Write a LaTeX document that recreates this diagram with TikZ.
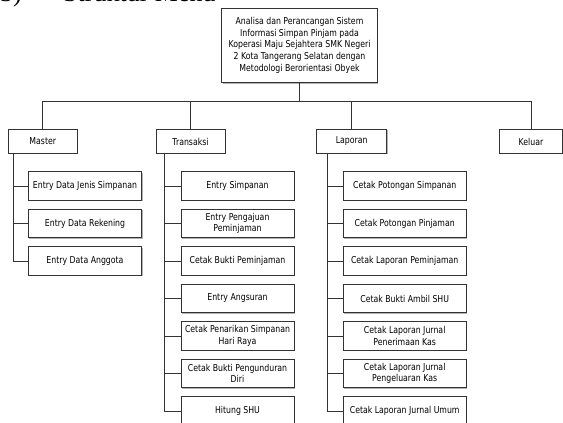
\documentclass[tikz,border=0pt]{standalone}
\usepackage{fontspec}
\newfontfamily\boxfont{DejaVu Sans}[FakeStretch=0.82]
\newfontfamily\headfont{Liberation Serif}
\usetikzlibrary{shadows}

\begin{document}
\begin{tikzpicture}[x=1pt,y=-1pt,
  box/.style={draw=black!80, line width=0.8pt, fill=white, rectangle,
    inner sep=0pt, align=center, text=black,
    font=\boxfont\fontsize{9.5}{11.6}\selectfont,
    drop shadow={shadow xshift=0.9pt, shadow yshift=-0.9pt, fill=black!30, opacity=1}},
  topbox/.style={box, minimum height=24},
  subbox/.style={box, minimum height=28.5},
  link/.style={draw=black!80, line width=0.8pt},
  heading/.style={anchor=base west, inner sep=0pt, font=\headfont\fontsize{26}{26}\selectfont}
]
\clip (0,0) rectangle (563,423);
\fill[white] (0,0) rectangle (563,423);

% section heading above the chart
\node[heading] (hnum) at (0,1.5) {3)};
\node[heading] (htitle) at (63,1.5) {Struktur Menu};

% root of the menu structure
\node[box, minimum width=155.5, minimum height=74.7] (root) at (299.5,45.3)
  {Analisa dan Perancangan Sistem\\Informasi Simpan Pinjam pada\\Koperasi Maju Sejahtera SMK Negeri\\2 Kota Tangerang Selatan dengan\\Metodologi Berorientasi Obyek};

% main menu entries
\node[topbox, minimum width=69] (master) at (42.8,141.5) {Master};
\node[topbox, minimum width=69] (transaksi) at (190.5,141.5) {Transaksi};
\node[topbox, minimum width=70] (laporan) at (351.7,141.5) {Laporan};
\node[topbox, minimum width=63] (keluar) at (531,141.5) {Keluar};

\coordinate (bus) at (299.5,101);
\draw[link] (root.south) -- (bus);
\foreach \n in {master,transaksi,laporan,keluar}
  \draw[link] (bus) -| (\n.north);

% Master submenu
\foreach \i/\t in {1/{Entry Data Jenis Simpanan},2/{Entry Data Rekening},3/{Entry Data Anggota}}{
  \node[subbox, minimum width=113.4] (m\i) at (85,148.5+37.5*\i) {\t};
  \draw[link] ([xshift=5pt]master.south west) |- (m\i.west);
}

% Transaksi submenu
\foreach \i/\t in {1/{Entry Simpanan},2/{Entry Pengajuan\\Peminjaman},3/{Cetak Bukti Peminjaman},
  4/{Entry Angsuran},5/{Cetak Penarikan Simpanan\\Hari Raya},6/{Cetak Bukti Pengunduran\\Diri},7/{Hitung SHU}}{
  \node[subbox, minimum width=113] (t\i) at (237.5,148.5+37.5*\i) {\t};
  \draw[link] ([xshift=8.3pt]transaksi.south west) |- (t\i.west);
}

% Laporan submenu
\foreach \i/\t in {1/{Cetak Potongan Simpanan},2/{Cetak Potongan Pinjaman},3/{Cetak Laporan Peminjaman},
  4/{Cetak Bukti Ambil SHU},5/{Cetak Laporan Jurnal\\Penerimaan Kas},6/{Cetak Laporan Jurnal\\Pengeluaran Kas},7/{Cetak Laporan Jurnal Umum}}{
  \node[subbox, minimum width=122.7] (l\i) at (404.7,148.5+37.5*\i) {\t};
  \draw[link] ([xshift=11pt]laporan.south west) |- (l\i.west);
}
\end{tikzpicture}
\end{document}
